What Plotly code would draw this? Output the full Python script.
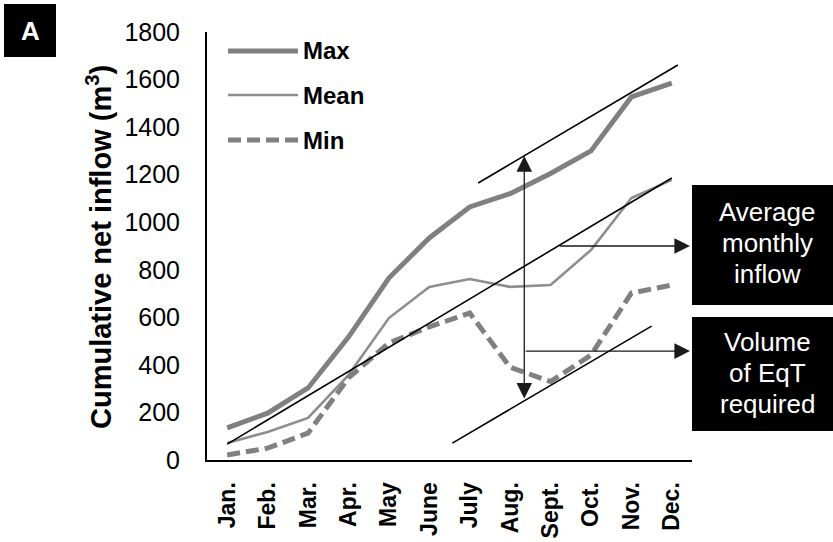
import plotly.graph_objects as go

months = ["Jan.", "Feb.", "Mar.", "Apr.", "May", "June", "July", "Aug.", "Sept.", "Oct.", "Nov.", "Dec."]
max_vals = [135, 197, 303, 517, 765, 934, 1064, 1120, 1205, 1300, 1527, 1585]
mean_vals = [72, 118, 177, 357, 597, 728, 761, 728, 736, 883, 1102, 1178]
min_vals = [21, 50, 113, 345, 492, 560, 618, 390, 330, 441, 702, 736]

# trend lines (x as month index, y in m3)
avg_line = [(0, 67), (11, 1186)]
upper_line = [(6.21, 1165), (11.15, 1661)]
lower_line = [(5.57, 71), (10.5, 563)]
# arrows
vert_arrow = [(7.35, 252), (7.35, 1278)]
avg_arrow = [(8.19, 900), (11.45, 900)]
vol_arrow = [(7.35, 458), (11.45, 458)]

box1_lines = ["Average", "monthly", "inflow"]
box2_lines = ["Volume", "of EqT", "required"]

W, H = 833, 542
L, R, T, B = 207, 692, 32, 460
def px(x):
    return (x - L) / (R - L)
def py(y):
    return (B - y) / (B - T)

FONT = "Liberation Sans, Arial, sans-serif"
GRAY = "#808080"
MEAN_GRAY = "#8e8e8e"

fig = go.Figure()
fig.add_trace(go.Scatter(x=months, y=max_vals, mode="lines", name="Max",
                         line=dict(color=GRAY, width=5)))
fig.add_trace(go.Scatter(x=months, y=mean_vals, mode="lines", name="Mean",
                         line=dict(color=MEAN_GRAY, width=2.6)))
fig.add_trace(go.Scatter(x=months, y=min_vals, mode="lines", name="Min",
                         line=dict(color=GRAY, width=5, dash="13px,6px")))

shapes = []
for seg in (avg_line, upper_line, lower_line):
    shapes.append(dict(type="line", xref="x", yref="y", x0=seg[0][0], y0=seg[0][1],
                       x1=seg[1][0], y1=seg[1][1], line=dict(color="black", width=1.6)))

# custom legend
leg = [("Max", dict(color=GRAY, width=5)), ("Mean", dict(color=MEAN_GRAY, width=2.6)),
       ("Min", dict(color=GRAY, width=5, dash="13px,6px"))]
leg_y = [51, 95, 140]
annotations = []
for (name, ln), yy in zip(leg, leg_y):
    shapes.append(dict(type="line", xref="paper", yref="paper", x0=px(228), x1=px(298),
                       y0=py(yy), y1=py(yy), line=ln))
    annotations.append(dict(xref="paper", yref="paper", x=px(302), y=py(yy), text="<b>%s</b>" % name,
                            showarrow=False, xanchor="left", yanchor="middle", borderpad=0,
                            font=dict(family=FONT, size=24, color="black")))

# black boxes
for (x0, y0, x1, y1) in [(692, 185, 840, 305), (692, 317, 840, 431), (4, 4, 56, 57)]:
    shapes.append(dict(type="rect", xref="paper", yref="paper", x0=px(x0), x1=px(x1),
                       y0=py(y0), y1=py(y1), fillcolor="black", line=dict(width=0)))

for lines, ys in ((box1_lines, [212, 243, 274]), (box2_lines, [342, 373, 404])):
    for txt, yy in zip(lines, ys):
        annotations.append(dict(xref="paper", yref="paper", x=px(767), y=py(yy),
                                text=txt, showarrow=False, xanchor="center", yanchor="middle",
                                borderpad=0, font=dict(family=FONT, size=26, color="white")))
annotations.append(dict(xref="paper", yref="paper", x=px(30), y=py(31), text="<b>A</b>",
                        showarrow=False, xanchor="center", yanchor="middle",
                        font=dict(family=FONT, size=26, color="white")))
annotations.append(dict(xref="paper", yref="paper", x=px(99), y=py(247),
                        text="<b>Cumulative net inflow (m<sup>3</sup>)</b>", textangle=-90,
                        showarrow=False, xanchor="center", yanchor="middle",
                        font=dict(family=FONT, size=29, color="black")))

# arrows
annotations.append(dict(xref="x", yref="y", axref="x", ayref="y",
                        x=vert_arrow[1][0], y=vert_arrow[1][1], ax=vert_arrow[0][0], ay=vert_arrow[0][1],
                        text="", showarrow=True, arrowhead=2, startarrowhead=2, arrowside="end+start",
                        arrowsize=2.4, startarrowsize=2.4, arrowwidth=1.3, arrowcolor="#1a1a1a"))
for arr in (avg_arrow, vol_arrow):
    annotations.append(dict(xref="x", yref="y", axref="x", ayref="y",
                            x=arr[1][0], y=arr[1][1], ax=arr[0][0], ay=arr[0][1],
                            text="", showarrow=True, arrowhead=2, arrowsize=2.4, arrowwidth=1.3,
                            arrowcolor="#1a1a1a"))

fig.update_layout(
    width=W, height=H,
    margin=dict(l=L, r=W - R, t=T, b=H - B, pad=0, autoexpand=False),
    plot_bgcolor="white", paper_bgcolor="white",
    showlegend=False,
    shapes=shapes, annotations=annotations,
    font=dict(family=FONT, color="black"),
    xaxis=dict(type="category", range=[-0.5, 11.5], showgrid=False, zeroline=False, automargin=False,
               showline=True, linecolor="black", linewidth=2, ticks="", tickangle=-90,
               tickfont=dict(family=FONT, size=23, color="black"), ticklabelstandoff=11,
               tickvals=months, ticktext=["<b>%s</b>" % m for m in months]),
    yaxis=dict(range=[0, 1800], dtick=200, showgrid=False, zeroline=False, automargin=False,
               showline=True, linecolor="black", linewidth=2, ticks="",
               tickfont=dict(family=FONT, size=25, color="black"), ticklabelstandoff=20),
)

fig.write_html("out.html", config={"displayModeBar": False},
               post_script="document.body.style.margin='0';document.body.style.overflow='hidden';")
